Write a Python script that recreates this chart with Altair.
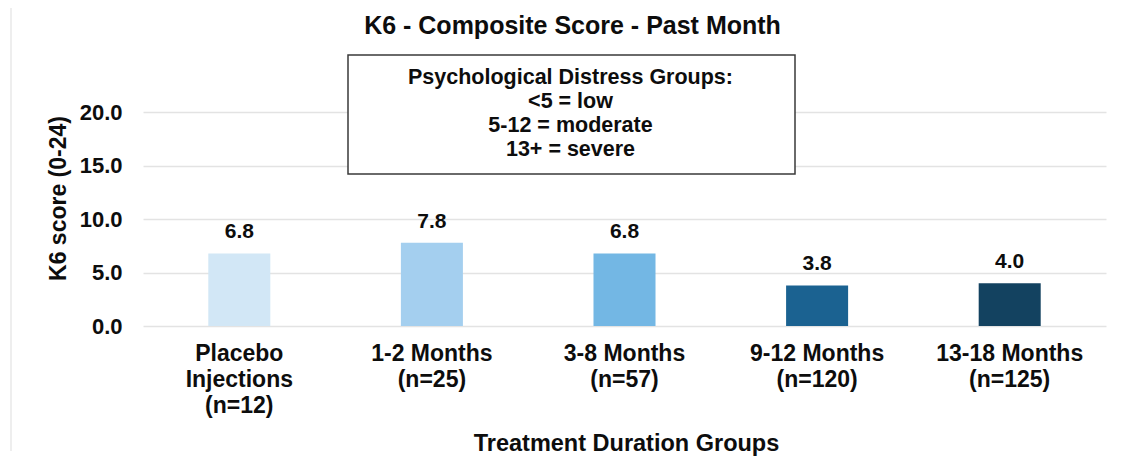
import altair as alt
import pandas as pd

# ---- data ----
title_text = "K6 - Composite Score - Past Month"
groups = [
    "Placebo|Injections|(n=12)",
    "1-2 Months|(n=25)",
    "3-8 Months|(n=57)",
    "9-12 Months|(n=120)",
    "13-18 Months|(n=125)",
]
scores = [6.8, 7.8, 6.8, 3.8, 4.0]
bar_colors = ["#d2e7f6", "#a4cfef", "#73b7e4", "#1b6291", "#134260"]
y_ticks = [0, 5, 10, 15, 20]
note_lines = [
    "Psychological Distress Groups:",
    "<5 = low",
    "5-12 = moderate",
    "13+ = severe",
]

df = pd.DataFrame({"group": groups, "score": scores, "color": bar_colors})
note_df = pd.DataFrame({"note": ["\n".join(note_lines)], "title": [title_text]})

FONT = "Liberation Sans"
INK = "#0d0d0d"

x_enc = alt.X(
    "group:N",
    sort=groups,
    scale=alt.Scale(paddingInner=0.678, paddingOuter=0.339),
    axis=alt.Axis(
        title="Treatment Duration Groups",
        labelExpr="split(datum.label, '|')",
        labelAngle=0,
        labelFont=FONT,
        labelFontSize=23,
        labelFontWeight="bold",
        labelColor=INK,
        labelLineHeight=26,
        labelPadding=16,
        labelBaseline="top",
        domain=False,
        ticks=False,
        titleFont=FONT,
        titleFontSize=23.5,
        titleFontWeight="bold",
        titleColor=INK,
        titleX=483,
        titleY=117,
        titleAlign="center",
        titleBaseline="middle",
    ),
)

y_enc = alt.Y(
    "score:Q",
    scale=alt.Scale(domain=[0, 25], nice=False),
    axis=alt.Axis(
        values=y_ticks,
        format=".1f",
        title="K6 score (0-24)",
        grid=True,
        gridColor="#e3e3e3",
        gridWidth=1.5,
        domain=False,
        ticks=False,
        labelFont=FONT,
        labelFontSize=22,
        labelFontWeight="bold",
        labelColor=INK,
        labelPadding=21,
        titleFont=FONT,
        titleFontSize=23,
        titleFontWeight="bold",
        titleColor=INK,
        titleAngle=-90,
        titleX=-85,
        titleY=139,
        titleAlign="center",
        titleBaseline="middle",
    ),
)

base = alt.Chart(df)

bars = base.mark_bar().encode(
    x=x_enc,
    y=y_enc,
    color=alt.Color("color:N", scale=None),
)

labels = base.mark_text(
    baseline="alphabetic", dy=-15, font=FONT, fontSize=21, fontWeight="bold", color=INK
).encode(
    x=alt.X("group:N", sort=groups),
    y=alt.Y("score:Q"),
    text=alt.Text("score:Q", format=".1f"),
)

frame = alt.Chart(note_df).mark_rule(color="#e8e8e8", strokeWidth=1.5).encode(
    x=alt.value(-132), y=alt.value(-51), y2=alt.value(392)
)

title = alt.Chart(note_df).mark_text(
    font=FONT, fontSize=25, fontWeight="bold", color=INK, align="center", baseline="middle",
).encode(x=alt.value(429.5), y=alt.value(-33), text="title:N")

box = alt.Chart(note_df).mark_rect(fill="white", stroke="#3a3a3a", strokeWidth=1.5).encode(
    x=alt.value(205), x2=alt.value(652), y=alt.value(-4), y2=alt.value(115)
)

note = alt.Chart(note_df).mark_text(
    lineBreak="\n", lineHeight=24.3, font=FONT, fontSize=21.5, fontWeight="bold",
    color=INK, align="center", baseline="middle",
).encode(x=alt.value(427.5), y=alt.value(18.5), text="note:N")

chart = alt.layer(frame, title, bars, labels, box, note).properties(
    width=963,
    height=267,
    autosize=alt.AutoSizeParams(type="none"),
    padding={"left": 135, "top": 51, "right": 8, "bottom": 132},
    background="white",
).configure_view(stroke=None)

chart.save("out.html", embed_options={"renderer": "svg", "actions": False})
